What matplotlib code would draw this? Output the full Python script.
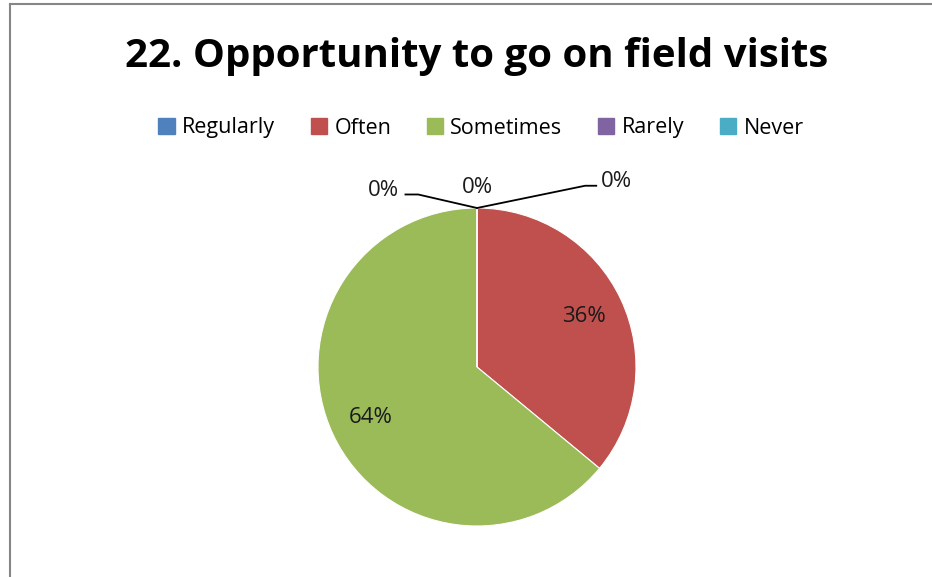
import matplotlib.pyplot as plt
from matplotlib.lines import Line2D
import numpy as np

categories = ['Regularly', 'Often', 'Sometimes', 'Rarely', 'Never']
values = [0, 36, 64, 0, 0]
colors = ['#4f81bd', '#c0504d', '#9bbb59', '#8064a2', '#4bacc6']
title = '22. Opportunity to go on field visits'

plt.rcParams['font.family'] = ['Open Sans', 'DejaVu Sans']

W, H = 932, 577
fig = plt.figure(figsize=(W / 100, H / 100), dpi=100)
fig.patch.set_facecolor('white')

# pie centre (477, 367) px, radius 159 px
cx, cy, r = 477, 367, 159
ax = fig.add_axes([(cx - r) / W, (H - cy - r) / H, 2 * r / W, 2 * r / H])

wedges, _ = ax.pie(values, colors=colors, startangle=90, counterclock=False,
                   wedgeprops=dict(linewidth=0.8, edgecolor='white'))
ax.set_xlim(-1, 1)
ax.set_ylim(-1, 1)
ax.set_aspect('equal')

# percent labels for the real slices
total = sum(values)
angle = 90.0
zero_labels = []
for cat, v in zip(categories, values):
    span = 360.0 * v / total
    mid = np.deg2rad(angle - span / 2)
    if v > 0:
        ax.text(0.74 * np.cos(mid), 0.74 * np.sin(mid), f'{v / total:.0%}',
                ha='center', va='center', fontsize=16, color='#1a1a1a')
    else:
        zero_labels.append(f'{v / total:.0%}')
    angle -= span

# 0% labels with leader lines (Excel style)
zero_pos = [(-0.59, 1.11, [(0, 1.0), (-0.37, 1.085), (-0.45, 1.085)]),
            (0.0, 1.13, None),
            (0.88, 1.165, [(0, 1.0), (0.68, 1.14), (0.75, 1.14)])]
for lab, (tx, ty, path) in zip(zero_labels, zero_pos):
    ax.text(tx, ty, lab, ha='center', va='center', fontsize=16,
            color='#1a1a1a', clip_on=False)
    if path:
        xs, ys = zip(*path)
        ax.plot(xs, ys, color='black', lw=1.3, clip_on=False)

fig.text(cx / W, 1 - 57 / H, title, ha='center', va='center',
         fontsize=29, fontweight='bold')

handles = [plt.Rectangle((0, 0), 1, 1, color=c) for c in colors]
fig.legend(handles, categories, loc='center', bbox_to_anchor=(481 / W, 1 - 128 / H),
           ncol=5, frameon=False, fontsize=15.5, handlelength=0.75, handleheight=0.75,
           handletextpad=0.35, columnspacing=1.65)

# chart border (only left and top visible in the crop)
fig.add_artist(Line2D([9.5 / W, 9.5 / W], [0, 1 - 4 / H], color='#868686', lw=1.5,
                      transform=fig.transFigure))
fig.add_artist(Line2D([9.5 / W, 1], [1 - 4 / H, 1 - 4 / H], color='#868686', lw=1.5,
                      transform=fig.transFigure))

fig.savefig('out.png', dpi=100)
